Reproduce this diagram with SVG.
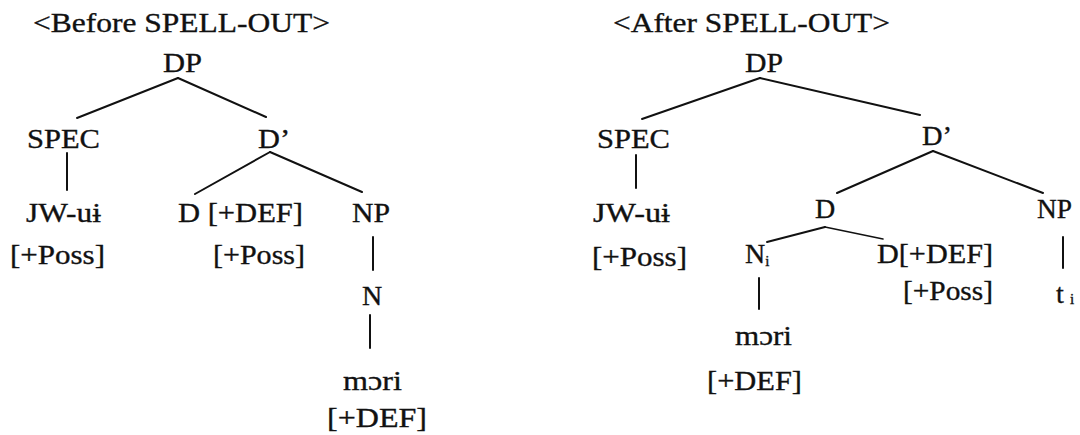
<svg xmlns="http://www.w3.org/2000/svg" width="1080" height="435" viewBox="0 0 1080 435">
<style>
text{font-family:"Liberation Serif","Times New Roman",serif;font-size:28px;fill:#111;stroke:#111;stroke-width:0.35}
.sub{font-size:15px}
line{stroke:#111;stroke-width:2;stroke-linecap:round}
</style>
<rect width="1080" height="435" fill="#fff"/>
<g id="title-before"><text x="33" y="32" textLength="297" lengthAdjust="spacingAndGlyphs">&lt;Before SPELL-OUT&gt;</text></g>
<g id="title-after"><text x="613" y="32" textLength="277" lengthAdjust="spacingAndGlyphs">&lt;After SPELL-OUT&gt;</text></g>
<g id="L-DP"><text x="163" y="72" textLength="39" lengthAdjust="spacingAndGlyphs">DP</text></g>
<g id="L-SPEC"><text x="27" y="148" textLength="73" lengthAdjust="spacingAndGlyphs">SPEC</text></g>
<g id="L-Dbar"><text x="258" y="148" textLength="32" lengthAdjust="spacingAndGlyphs">D’</text></g>
<g id="L-JW"><text x="26" y="222" textLength="75" lengthAdjust="spacingAndGlyphs">JW-uɨ</text><text x="10" y="264" textLength="95" lengthAdjust="spacingAndGlyphs">[+Poss]</text></g>
<g id="L-D"><text x="178" y="222" textLength="125" lengthAdjust="spacingAndGlyphs">D [+DEF]</text><text x="213" y="264" textLength="92" lengthAdjust="spacingAndGlyphs">[+Poss]</text></g>
<g id="L-NP"><text x="352" y="222" textLength="38" lengthAdjust="spacingAndGlyphs">NP</text></g>
<g id="L-N"><text x="362" y="305">N</text></g>
<g id="L-mori"><text x="343" y="390" textLength="59" lengthAdjust="spacingAndGlyphs">mɔri</text><text x="327" y="427" textLength="100" lengthAdjust="spacingAndGlyphs">[+DEF]</text></g>
<g id="R-DP"><text x="745" y="72" textLength="38" lengthAdjust="spacingAndGlyphs">DP</text></g>
<g id="R-SPEC"><text x="597" y="148" textLength="73" lengthAdjust="spacingAndGlyphs">SPEC</text></g>
<g id="R-Dbar"><text x="922" y="145" textLength="30" lengthAdjust="spacingAndGlyphs">D’</text></g>
<g id="R-JW"><text x="593" y="222" textLength="77" lengthAdjust="spacingAndGlyphs">JW-uɨ</text><text x="592" y="266" textLength="95" lengthAdjust="spacingAndGlyphs">[+Poss]</text></g>
<g id="R-D"><text x="815" y="218">D</text></g>
<g id="R-NP"><text x="1037" y="218" textLength="35" lengthAdjust="spacingAndGlyphs">NP</text></g>
<g id="R-Ni"><text x="745" y="263">N<tspan class="sub" dy="3">i</tspan></text></g>
<g id="R-Ddef"><text x="877" y="263" textLength="116" lengthAdjust="spacingAndGlyphs">D[+DEF]</text><text x="903" y="300" textLength="90" lengthAdjust="spacingAndGlyphs">[+Poss]</text></g>
<g id="R-t"><text x="1056" y="303">t<tspan class="sub" x="1070" dy="1">i</tspan></text></g>
<g id="R-mori"><text x="735" y="345" textLength="57" lengthAdjust="spacingAndGlyphs">mɔri</text><text x="707" y="390" textLength="95" lengthAdjust="spacingAndGlyphs">[+DEF]</text></g>
<g id="connectors">
<line x1="178" y1="78" x2="77" y2="118"/>
<line x1="178" y1="78" x2="266" y2="117"/>
<line x1="67" y1="153" x2="67" y2="190"/>
<line x1="270" y1="152" x2="195" y2="194"/>
<line x1="270" y1="152" x2="362" y2="192"/>
<line x1="373" y1="237" x2="373" y2="270"/>
<line x1="370" y1="315" x2="370" y2="348"/>
<line x1="760" y1="78" x2="642" y2="119"/>
<line x1="760" y1="78" x2="920" y2="115"/>
<line x1="636" y1="155" x2="636" y2="188"/>
<line x1="933" y1="151" x2="837" y2="193"/>
<line x1="933" y1="151" x2="1043" y2="193"/>
<line x1="825" y1="227" x2="767" y2="242"/>
<line x1="825" y1="227" x2="883" y2="239" style="stroke-width:1.5"/>
<line x1="1063" y1="237" x2="1063" y2="268"/>
<line x1="759" y1="278" x2="759" y2="309"/>
</g>
</svg>
